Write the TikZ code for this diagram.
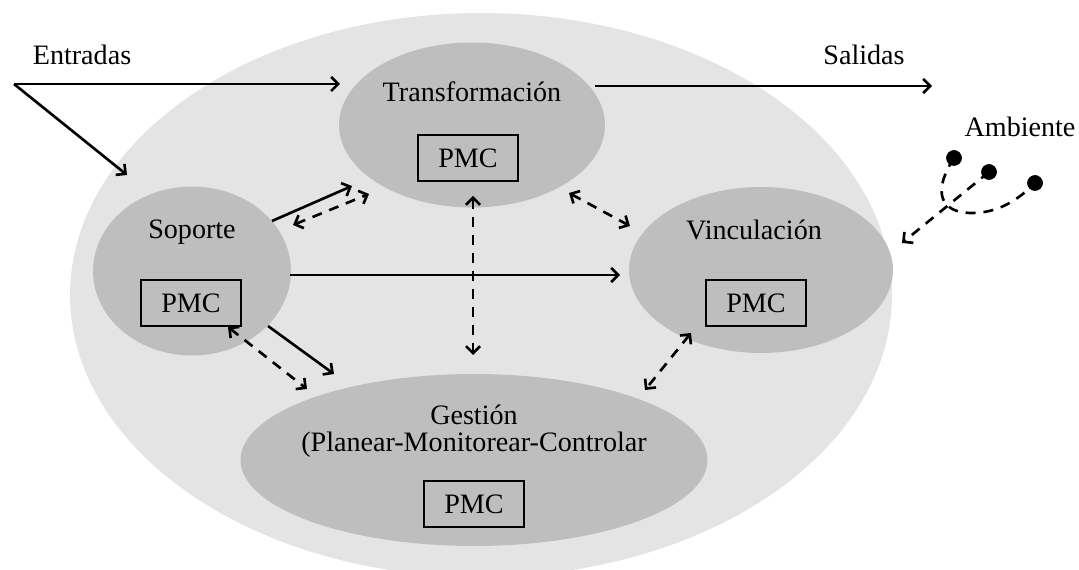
\documentclass[tikz,border=0pt]{standalone}
\usepackage{fontspec}
\setmainfont{Liberation Serif}
\usetikzlibrary{shapes.geometric,arrows.meta}
\definecolor{outergray}{HTML}{E4E4E4}
\definecolor{innergray}{HTML}{BEBEBE}
\begin{document}
\begin{tikzpicture}[x=0.02cm,y=-0.02cm,
  txt/.style={font=\fontsize{16}{19}\selectfont, inner sep=0pt},
  sub/.style={ellipse, fill=innergray, inner sep=0pt},
  pmc/.style={draw=black, line width=1.3pt, fill=innergray, minimum width=2cm,
    minimum height=0.92cm, inner sep=0pt, font=\fontsize{16}{19}\selectfont},
  tip/.tip={Straight Barb[length=4pt,width=8pt]},
  flow/.style={line width=1.5pt, -tip},
  link/.style={line width=1.5pt, dash pattern=on 5.7pt off 4.5pt, tip-tip},
  amb/.style={line width=1.5pt, dash pattern=on 5.7pt off 4.5pt},
  dot/.style={circle, fill=black, minimum size=0.31cm, inner sep=0pt}]
\useasboundingbox (0,0) rectangle (1079,570);

% system boundary
\node[ellipse, fill=outergray, minimum width=16.44cm, minimum height=11.28cm, inner sep=0pt]
  (sys) at (481,295) {};

% subsystems
\node[sub, minimum width=5.32cm, minimum height=3.3cm] (tra) at (472,125) {};
\node[txt] (tratxt) at (472,92) {Transformación};
\node[pmc] (trapmc) at (468,158) {PMC};

\node[sub, minimum width=3.96cm, minimum height=3.38cm] (sop) at (192,271) {};
\node[txt] (soptxt) at (192,232) {Soporte};
\node[pmc] (soppmc) at (191,303) {PMC};

\node[sub, minimum width=5.28cm, minimum height=3.32cm] (vin) at (761,270) {};
\node[txt] (vintxt) at (754,230) {Vinculación};
\node[pmc] (vinpmc) at (756,303) {PMC};

\node[sub, minimum width=9.34cm, minimum height=3.44cm] (ges) at (474,460) {};
\node[txt] (gestxt) at (474,415) {Gestión};
\node[txt] (gestxtb) at (474,445) {(Planear-Monitorear-Controlar};
\node[pmc] (gespmc) at (474,504) {PMC};

% outside labels
\node[txt] (ent) at (82,55) {Entradas};
\node[txt] (sal) at (864,55) {Salidas};
\node[txt] (ambtxt) at (1020,127) {Ambiente};

% end points of the connectors
\coordinate (in0) at (14,84);
\coordinate (inA) at (340,84);
\coordinate (inB) at (127,175);
\coordinate (outA) at (595,86);
\coordinate (outB) at (932,86);
\coordinate (s2tA) at (272,221);
\coordinate (s2tB) at (352,186);
\coordinate (s2tC) at (293,225);
\coordinate (s2tD) at (369,194);
\coordinate (t2gA) at (473,196);
\coordinate (t2gB) at (473,355);
\coordinate (t2vA) at (569,193);
\coordinate (t2vB) at (630,226);
\coordinate (s2vA) at (290,275);
\coordinate (s2vB) at (620,275);
\coordinate (s2gA) at (268,326);
\coordinate (s2gB) at (334,374);
\coordinate (s2gC) at (228,327);
\coordinate (s2gD) at (307,389);
\coordinate (v2gA) at (691,333);
\coordinate (v2gB) at (645,390);
\coordinate (ambout) at (902,243);

% inputs and outputs
\draw[flow] (in0) -- (inA);
\draw[flow] (in0) -- (inB);
\draw[flow] (outA) -- (outB);

% flows between subsystems
\draw[flow] (s2tA) -- (s2tB);
\draw[link] (s2tC) -- (s2tD);
\draw[link] (t2gA) -- (t2gB);
\draw[link] (t2vA) -- (t2vB);
\draw[flow] (s2vA) -- (s2vB);
\draw[flow] (s2gA) -- (s2gB);
\draw[link] (s2gC) -- (s2gD);
\draw[link] (v2gA) -- (v2gB);

% environment
\node[dot] (d1) at (954,158) {};
\node[dot] (d2) at (989,172) {};
\node[dot] (d3) at (1035,183) {};
\draw[amb] (d1.center) .. controls (932,192) and (940,213) .. (972,213)
  .. controls (1000,213) and (1020,198) .. (d3.center);
\draw[amb, -tip] (d2.center) -- (ambout);
\node[dot] at (d1) {};
\node[dot] at (d2) {};
\node[dot] at (d3) {};
\end{tikzpicture}
\end{document}
